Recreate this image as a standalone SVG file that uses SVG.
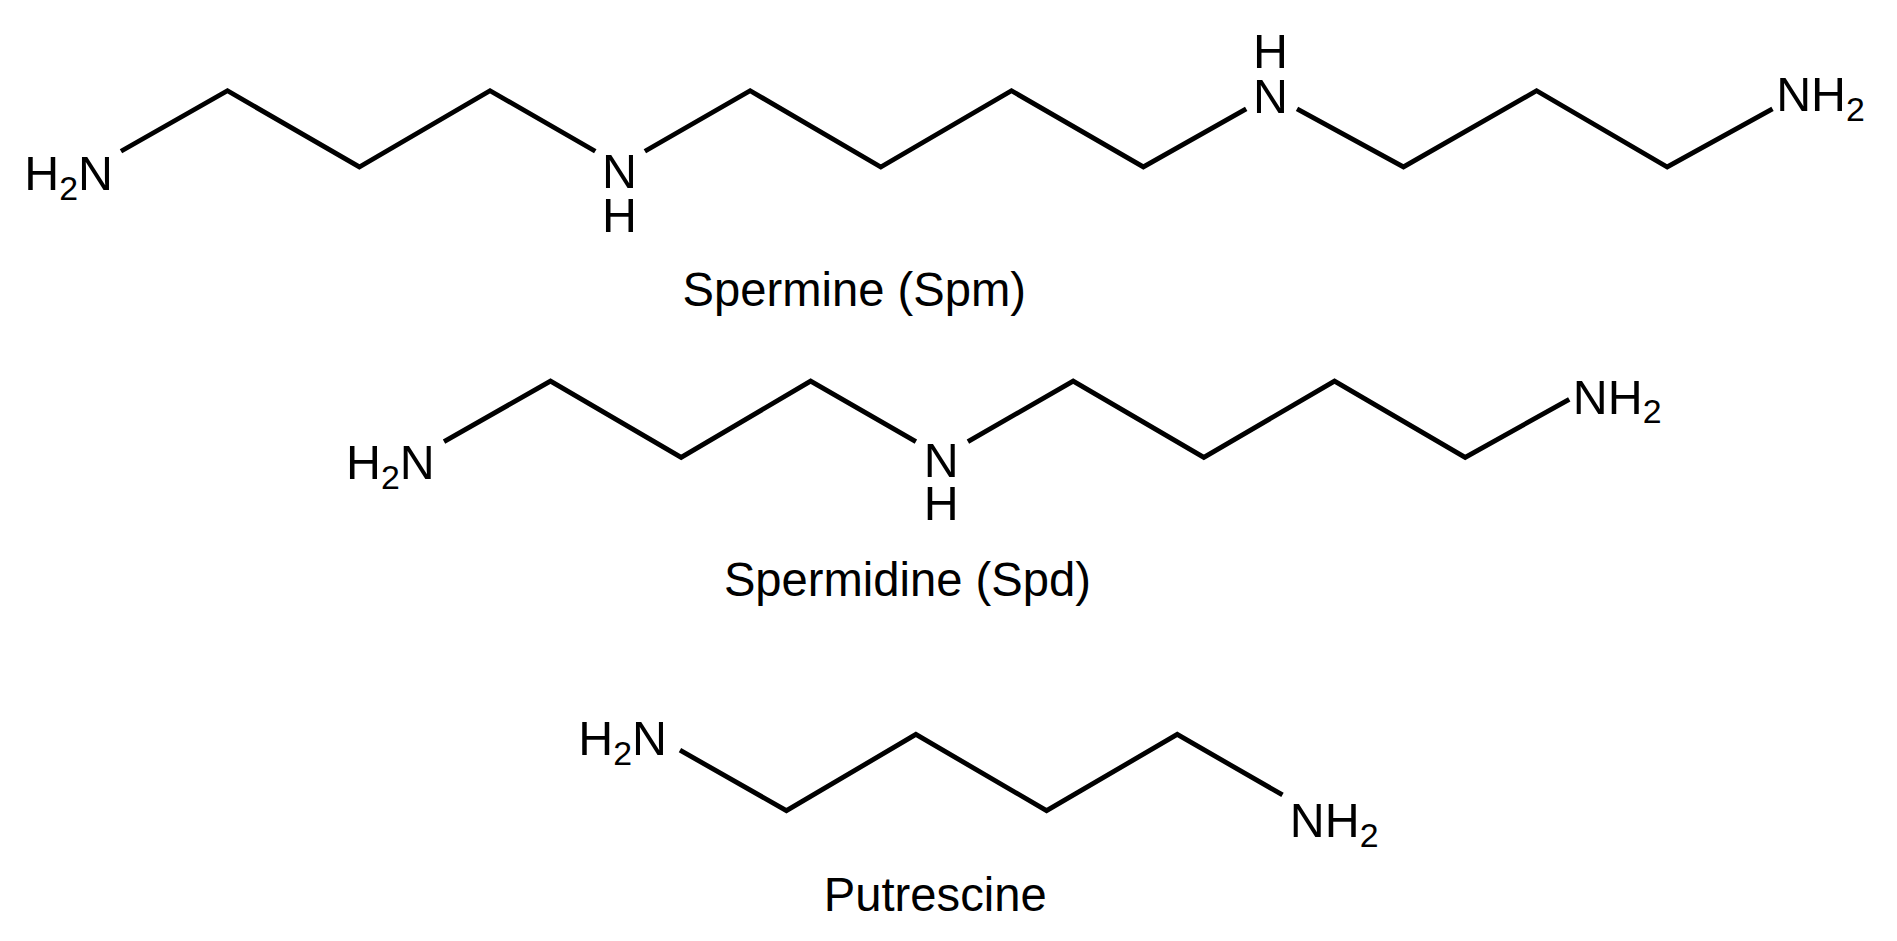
<svg xmlns="http://www.w3.org/2000/svg" width="1897" height="941" viewBox="0 0 1897 941">
<style>
.b{fill:none;stroke:#000;stroke-width:4;stroke-linejoin:miter}
text{font-family:"Liberation Sans",Arial,sans-serif;font-size:40px;fill:#000}
.c{text-anchor:middle}
.l{font-size:39px;text-anchor:middle}
.s{font-size:28px}
</style>
<rect width="1897" height="941" fill="#fff"/>
<g transform="scale(1.2099)">
<g id="connectors">
<polyline class="b" points="100,125 188,75 297,138 405,75 492,125"/>
<polyline class="b" points="533,125 620,75 728,138 836,75 945,138 1030,90"/>
<polyline class="b" points="1072,90 1160,138 1270,75 1378,138 1465,90"/>
<polyline class="b" points="367,365 455,315 563,378 670,315 757,365"/>
<polyline class="b" points="800,365 887,315 995,378 1103,315 1211,378 1297,330"/>
<polyline class="b" points="562,620 650,670 757,607 865,670 973,607 1060,657"/>
</g>
<g id="spermine">
<text x="20" y="157">H<tspan class="s" dy="8">2</tspan><tspan dy="-8">N</tspan></text>
<text class="c" x="512" y="155">N</text>
<text class="c" x="512" y="192">H</text>
<text class="c" x="1050" y="93">N</text>
<text class="c" x="1050" y="56">H</text>
<text x="1468" y="92">NH<tspan class="s" dy="8">2</tspan></text>
<text class="l" x="706" y="253">Spermine (Spm)</text>
</g>
<g id="spermidine">
<text x="286" y="396">H<tspan class="s" dy="8">2</tspan><tspan dy="-8">N</tspan></text>
<text class="c" x="778" y="394">N</text>
<text class="c" x="778" y="430">H</text>
<text x="1300" y="342">NH<tspan class="s" dy="8">2</tspan></text>
<text class="l" x="750" y="493">Spermidine (Spd)</text>
</g>
<g id="putrescine">
<text x="478" y="624">H<tspan class="s" dy="8">2</tspan><tspan dy="-8">N</tspan></text>
<text x="1066" y="692">NH<tspan class="s" dy="8">2</tspan></text>
<text class="l" x="773" y="753">Putrescine</text>
</g>
</g>
</svg>
